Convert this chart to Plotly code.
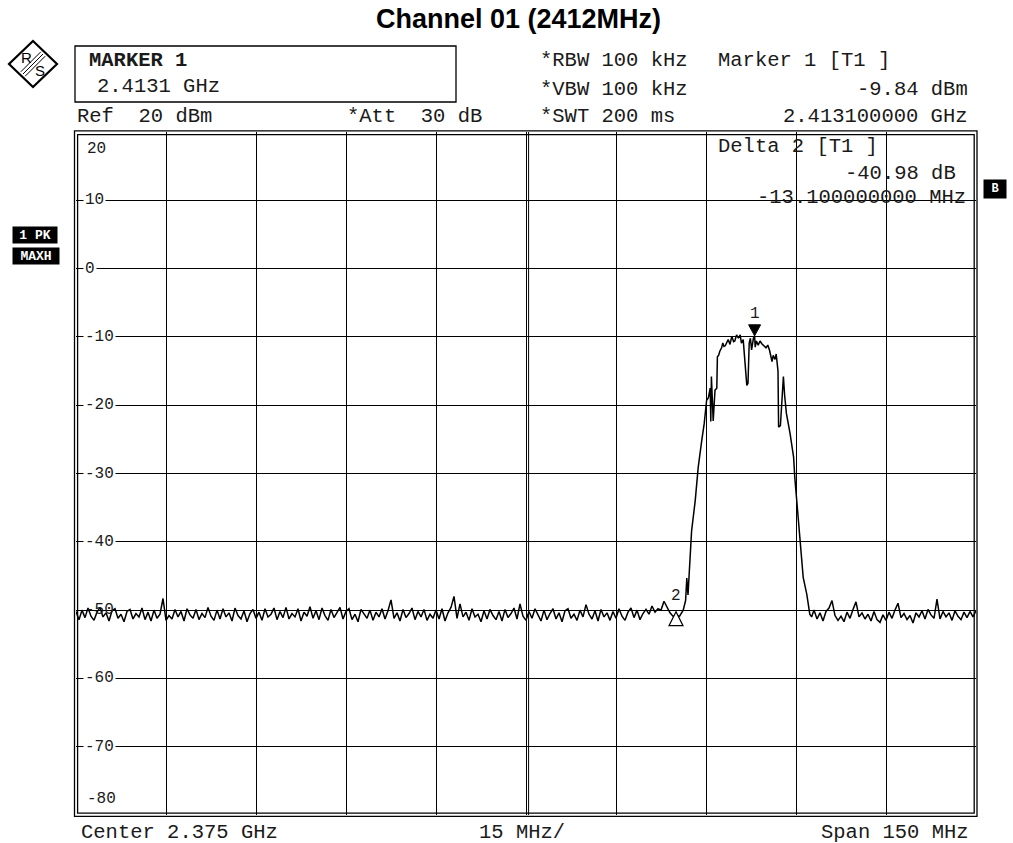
import plotly.graph_objects as go

# ---------------- data ----------------
# noise floor left of the carrier, 0.5 MHz spacing from 2300 MHz
noise_left_start_mhz = 2300.0
noise_step_mhz = 0.5
noise_left_dbm = [
    -50.2, -51.4, -50.0, -51.1, -49.7, -50.9, -51.5, -50.3, -49.6, -51.0,
    -50.4, -51.6, -50.1, -49.8, -51.2, -50.6, -51.7, -50.2, -49.9, -51.3,
    -50.5, -51.0, -49.7, -51.4, -50.3, -51.6, -50.0, -51.2, -50.6, -48.3,
    -51.5, -50.8, -51.3, -49.9, -51.0, -50.2, -51.6, -49.8, -50.7, -51.2,
    -49.9, -51.4, -50.5, -51.1, -49.6, -50.9, -51.5, -50.0, -51.3, -49.8,
    -51.0, -50.4, -51.6, -49.7, -50.8, -51.3, -50.1, -51.7, -50.5, -49.9,
    -51.2, -50.3, -51.5, -49.8, -51.0, -50.6, -49.7, -51.4, -50.2, -51.1,
    -49.6, -51.3, -50.5, -51.0, -49.8, -51.6, -50.3, -50.9, -49.5, -51.2,
    -50.1, -51.4, -49.7, -50.8, -51.5, -49.9, -51.1, -50.4, -49.6, -51.3,
    -50.2, -49.8, -51.4, -50.6, -51.7, -49.9, -50.5, -51.2, -50.0, -51.5,
    -50.3, -51.0, -49.8, -51.3, -50.1, -48.5, -51.2, -50.4, -51.6, -49.9,
    -51.1, -50.5, -49.7, -51.4, -50.2, -51.0, -49.9, -51.5, -50.6, -51.2,
    -50.0, -51.3, -49.8, -51.6, -50.4, -49.6, -48.0, -51.2, -49.1, -51.0,
    -50.3, -51.5, -49.8, -51.0, -50.6, -51.7, -50.1, -51.3, -49.9, -50.8,
    -51.4, -50.2, -51.6, -49.9, -51.1, -50.5, -49.7, -51.3, -49.1, -50.9,
    -51.5, -50.2, -51.2, -49.8, -50.7, -51.6, -50.0, -51.4, -50.5, -49.8,
    -51.3, -50.4, -51.7, -50.1, -49.8, -51.2, -50.6, -51.5, -50.0, -51.0,
    -49.2, -50.6, -51.3, -50.1, -51.6, -49.9, -51.0, -50.4, -51.5, -50.2,
    -51.2, -49.8, -50.9, -51.5, -50.3, -49.7, -51.1, -50.0, -51.4, -50.5,
    -49.9, -50.6, -49.4, -50.3, -49.8, -50.0, -48.7, -49.6, -50.4, -50.9,
]
# carrier region (MHz, dBm)
signal_mhz = [
    2400.0, 2400.6, 2401.2, 2401.6, 2401.8, 2402.0, 2402.3, 2402.6, 2403.2, 2403.7,
    2404.3, 2404.7, 2405.1, 2405.4, 2405.7, 2405.8, 2405.9, 2406.1, 2406.2, 2406.5,
    2406.8, 2406.9, 2407.1, 2407.3, 2407.6, 2407.8, 2408.0, 2408.2, 2408.5, 2408.7,
    2409.0, 2409.3, 2409.6, 2409.8, 2410.1, 2410.4, 2410.7, 2410.9, 2411.2, 2411.5,
    2411.8, 2412.0, 2412.2, 2412.4, 2412.6, 2412.9, 2413.1, 2413.2, 2413.4, 2413.7,
    2414.0, 2414.3, 2414.7, 2415.0, 2415.3, 2415.6, 2416.0, 2416.2, 2416.5, 2416.7,
    2417.0, 2417.1, 2417.4, 2417.7, 2417.9, 2418.1, 2418.4, 2419.0, 2419.6, 2419.8,
    2420.4, 2420.9, 2421.2, 2421.8, 2422.3, 2422.6,
]
signal_dbm = [
    -50.82, -50.9, -50.0, -48.6, -45.3, -47.8, -43.8, -38.4, -34.0, -29.1,
    -25.1, -22.7, -19.3, -18.9, -17.5, -22.4, -15.8, -22.2, -22.3, -17.8,
    -17.5, -12.9, -12.7, -12.1, -11.6, -10.9, -11.4, -11.3, -10.6, -10.4,
    -11.1, -9.9, -10.7, -10.6, -9.7, -10.2, -9.7, -10.9, -10.4, -14.4,
    -17.1, -16.8, -10.9, -10.2, -11.9, -10.2, -9.84, -11.5, -10.6, -11.2,
    -10.6, -11.0, -11.3, -11.6, -11.2, -12.0, -13.6, -12.7, -13.3, -12.5,
    -15.0, -23.2, -23.0, -18.8, -15.8, -18.5, -21.2, -24.1, -27.6, -30.6,
    -36.4, -41.8, -45.2, -47.7, -50.6, -51.0,
]
# noise floor right of the carrier, 0.5 MHz spacing from 2423 MHz
noise_right_start_mhz = 2423.0
noise_right_dbm = [
    -50.0, -51.3, -50.4, -51.6, -50.2, -49.7, -48.6, -50.8, -51.5, -50.9,
    -51.7, -50.3, -51.2, -49.9, -48.8, -51.0, -50.4, -51.3, -50.6, -51.6,
    -50.2, -51.4, -51.8, -50.7, -51.5, -50.3, -51.2, -50.0, -49.0, -51.1,
    -50.5, -51.4, -50.8, -51.9, -50.4, -51.0, -50.1, -51.3, -49.9, -50.7,
    -51.2, -48.4, -51.3, -50.2, -51.0, -50.4, -51.5, -50.1, -50.9, -51.4,
    -50.3, -51.1, -50.2, -51.0, -50.1,
]

marker_mhz = [2413.1, 2400.0]
marker_dbm = [-9.84, -50.82]
marker_labels = ["1", "2"]

y_tick_vals = [20, 10, 0, -10, -20, -30, -40, -50, -60, -70, -80]
y_tick_labels = ["20", "10", "0", "-10", "-20", "-30", "-40", "-50", "-60", "-70", "-80"]

center_mhz = 2375
span_mhz = 150
div_mhz = 15

# ---------------- figure ----------------
freq = ([noise_left_start_mhz + i * noise_step_mhz for i in range(len(noise_left_dbm))]
        + signal_mhz
        + [noise_right_start_mhz + i * noise_step_mhz for i in range(len(noise_right_dbm))])
level = noise_left_dbm + signal_dbm + noise_right_dbm

W, H = 1013, 843
L, R, T, B = 76, 976, 132, 815
MONO = "Liberation Mono, Courier New, monospace"
SANS = "Liberation Sans, Arial, sans-serif"
TXT = "#1a1a1a"


def xp(px):
    return (px - L) / (R - L)


def yp(py):
    return (B - py) / (B - T)


fig = go.Figure()
fig.add_trace(go.Scatter(x=freq, y=level, mode="lines",
                         line=dict(color="black", width=1.5), hoverinfo="skip",
                         showlegend=False))

x0 = center_mhz - span_mhz / 2
x1 = center_mhz + span_mhz / 2
xticks = [x0 + k * div_mhz for k in range(1, int(span_mhz / div_mhz))]

shapes = []
# double frame
shapes.append(dict(type="rect", xref="paper", yref="paper", x0=xp(74.5), x1=xp(977),
                   y0=yp(816.3), y1=yp(130.8), line=dict(color="black", width=1.3)))
shapes.append(dict(type="rect", xref="paper", yref="paper", x0=xp(77.6), x1=xp(974.2),
                   y0=yp(813.2), y1=yp(134.6), line=dict(color="black", width=1.3)))
# double centre line
shapes.append(dict(type="line", xref="paper", yref="paper", x0=xp(528.6), x1=xp(528.6),
                   y0=0, y1=1, line=dict(color="black", width=1)))
# marker box
shapes.append(dict(type="rect", xref="paper", yref="paper", x0=xp(75), x1=xp(456),
                   y0=yp(102), y1=yp(46), line=dict(color="black", width=1.3)))
# R&S logo
cx, cy = 33, 64
dia = [(cx, cy - 23), (cx + 24, cy), (cx, cy + 23), (cx - 24, cy)]
path = "M" + " L".join(f"{xp(a):.5f},{yp(b):.5f}" for a, b in dia) + " Z"
shapes.append(dict(type="path", xref="paper", yref="paper", path=path,
                   line=dict(color="black", width=2.2)))
for off in (-2.2, 0, 2.2):
    ax, ay = cx - 10 + off, cy + 10 + off
    bx, by = cx + 10 + off, cy - 10 + off
    shapes.append(dict(type="line", xref="paper", yref="paper",
                       x0=xp(ax), y0=yp(ay), x1=xp(bx), y1=yp(by),
                       line=dict(color="black", width=1)))
# trace markers
shapes.append(dict(type="path", xref="x", yref="y", xsizemode="pixel", ysizemode="pixel",
                   xanchor=marker_mhz[0], yanchor=marker_dbm[0],
                   path="M0,0 L-6,11 L6,11 Z", fillcolor="black",
                   line=dict(color="black", width=1)))
shapes.append(dict(type="path", xref="x", yref="y", xsizemode="pixel", ysizemode="pixel",
                   xanchor=marker_mhz[1], yanchor=marker_dbm[1],
                   path="M0,4 L-7,-10 L7,-10 Z", fillcolor="white",
                   line=dict(color="black", width=1.2)))

ann = []


def text(s, px, py, anchor="left", size=20.5, bold=False, color=TXT, font=MONO, **kw):
    if bold:
        s = "<b>" + s + "</b>"
    ann.append(dict(text=s, xref="paper", yref="paper", x=xp(px), y=yp(py),
                    xanchor=anchor, yanchor="middle", showarrow=False, borderpad=0,
                    font=dict(family=font, size=size, color=color), **kw))


text("<b>Channel 01 (2412MHz)</b>", 518, 19, anchor="center", size=27,
     font=SANS, color="black")
text("MARKER 1", 88, 61, bold=True)
text("2.4131 GHz", 96, 87)
text("Ref  20 dBm", 76, 116)
text("*Att  30 dB", 346, 116)
text("*RBW 100 kHz", 539, 61)
text("*VBW 100 kHz", 539, 89)
text("*SWT 200 ms", 539, 116)
text("Marker 1 [T1 ]", 717, 61)
text("-9.84 dBm", 969, 89, anchor="right")
text("2.413100000 GHz", 969, 116, anchor="right")
text("Delta 2 [T1 ]", 717, 147)
text("-40.98 dB", 957, 173, anchor="right")
text("-13.100000000 MHz", 967, 198, anchor="right")
text("Center 2.375 GHz", 80, 832)
text("15 MHz/", 478, 832)
text("Span 150 MHz", 970, 832, anchor="right")
text("1 PK", 35, 235, anchor="center", size=13, bold=True, color="white",
     bgcolor="black", width=44, height=16)
text("MAXH", 35.5, 256, anchor="center", size=13, bold=True, color="white",
     bgcolor="black", width=46, height=16)
text("B", 995, 189, anchor="center", size=12, bold=True, color="white",
     bgcolor="black", width=22, height=18)
text("R", 26.5, 58, anchor="center", size=15, font=SANS, color="black")
text("S", 39.5, 71, anchor="center", size=15, font=SANS, color="black")

# y tick labels inside the plot
for v, s in zip(y_tick_vals, y_tick_labels):
    if v == y_tick_vals[0]:
        ann.append(dict(text=s, xref="paper", yref="y", x=xp(85), y=v, yshift=-17,
                        xanchor="left", yanchor="middle", showarrow=False,
                        font=dict(family=MONO, size=16, color=TXT)))
    elif v == y_tick_vals[-1]:
        ann.append(dict(text=s, xref="paper", yref="y", x=xp(85), y=v, yshift=16,
                        xanchor="left", yanchor="middle", showarrow=False,
                        font=dict(family=MONO, size=16, color=TXT)))
    else:
        d = dict(text=s, xref="paper", yref="y", x=xp(83), y=v,
                 xanchor="left", yanchor="middle", showarrow=False, borderpad=1,
                 font=dict(family=MONO, size=16, color=TXT))
        if v != -50:
            d["bgcolor"] = "white"
        ann.append(d)

# marker numbers
for f, lv, s, dy in zip(marker_mhz, marker_dbm, marker_labels, [22, 20]):
    ann.append(dict(text=s, xref="x", yref="y", x=f, y=lv, yshift=dy, showarrow=False,
                    xanchor="center", yanchor="middle",
                    font=dict(family=MONO, size=16, color=TXT)))

fig.update_layout(
    width=W, height=H, autosize=False,
    margin=dict(l=L, r=W - R, t=T, b=H - B, pad=0),
    paper_bgcolor="white", plot_bgcolor="white",
    shapes=shapes, annotations=ann, showlegend=False,
    xaxis=dict(range=[x0, x1], tickvals=xticks, showticklabels=False, ticks="",
               showgrid=True, gridcolor="black", gridwidth=1, zeroline=False,
               showline=False, fixedrange=True),
    yaxis=dict(range=[y_tick_vals[-1], y_tick_vals[0]], tickvals=y_tick_vals[1:-1],
               showticklabels=False, ticks="", showgrid=True, gridcolor="black",
               gridwidth=1, zeroline=False, showline=False, fixedrange=True),
)

fig.write_html("out.html", config={"displayModeBar": False},
               post_script="document.body.style.margin='0px';"
                           "document.body.style.overflow='hidden';")
